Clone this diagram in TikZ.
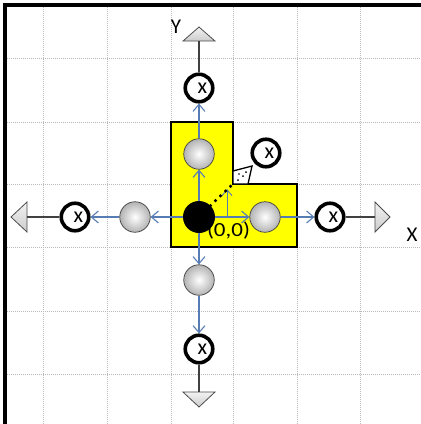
\documentclass[tikz,border=0pt]{standalone}
\usepackage{fontspec}
\setmainfont{Carlito}
\usetikzlibrary{arrows.meta}
\definecolor{axblue}{RGB}{85,125,180}
\definecolor{yel}{RGB}{255,255,0}
\begin{document}
\begin{tikzpicture}[x=1pt,y=-1pt,
  gridline/.style={gray!55,line width=0.9pt,dash pattern=on 1pt off 1pt},
  blackdot/.style={circle,fill=black,minimum size=32pt,inner sep=0pt},
  graydot/.style={circle,draw=gray!50!black,line width=0.7pt,inner color=white,outer color=gray!60,minimum size=30.5pt,inner sep=0pt},
  xcirc/.style={circle,draw=black,fill=white,line width=3.6pt,minimum size=27.5pt,inner sep=0pt,font=\fontsize{22}{22}\selectfont},
  blu/.style={draw=axblue,line width=1.1pt,-{Straight Barb[length=7pt,width=12pt]}},
  darkline/.style={draw=black!75,line width=1.1pt},
  tri/.style={top color=gray!10,bottom color=gray!40,draw=gray!60!black,line width=0.8pt},
  lab/.style={font=\fontsize{21}{21}\selectfont,inner sep=0pt}
]
\useasboundingbox (0,0) rectangle (421,424);
\fill[white] (0,0) rectangle (421,424);
% grid
\foreach \gx in {43,107,171,233,297,360} \draw[gridline] (\gx,5) -- (\gx,424);
\foreach \gy in {58,122,184,247,311,374} \draw[gridline] (5,\gy) -- (421,\gy);
% frame
\draw[line width=3.5pt] (5,424) -- (5,5) -- (421,5);
% yellow L shape
\draw[fill=yel,line width=1.5pt] (171,122) -- (233,122) -- (233,184) -- (297,184) -- (297,247) -- (171,247) -- cycle;
% triangles
\draw[tri] (183,41) -- (199,27) -- (215,41) -- cycle;
\draw[tri] (27,202) -- (11,217) -- (27,232) -- cycle;
\draw[tri] (375,202) -- (390,217) -- (375,232) -- cycle;
\draw[tri] (183,392) -- (199,407) -- (215,392) -- cycle;
\coordinate (tU) at (199,41);
\coordinate (tL) at (27,217);
\coordinate (tR) at (375,217);
\coordinate (tD) at (199,392);
% circles
\node[blackdot] (o) at (199,217) {};
\node[graydot] (gU) at (199,154) {};
\node[graydot] (gL) at (135,217) {};
\node[graydot] (gR) at (265,217) {};
\node[graydot] (gD) at (199,280) {};
\node[xcirc] (xU) at (199,88) {\hspace*{7pt}x};
\node[xcirc] (xL) at (75,217) {\hspace*{7pt}x};
\node[xcirc] (xR) at (330,217) {\hspace*{7pt}x};
\node[xcirc] (xD) at (199,349) {\hspace*{7pt}x};
\node[xcirc] (xN) at (266,153) {\hspace*{7pt}x};
% outer dark lines
\draw[darkline] (xU) -- (tU);
\draw[darkline] (xL) -- (tL);
\draw[darkline] (xR) -- (tR);
\draw[darkline] (xD) -- (tD);
% blue arrows
\draw[blu] (o) -- (gU);
\draw[blu] (gU) -- (xU);
\draw[blu] (o) -- (gL);
\draw[blu] (gL) -- (xL);
\draw[blu] (o) -- (gR);
\draw[blu] (gR) -- (xR);
\draw[blu] (o) -- (gD);
\draw[blu] (gD) -- (xD);
\coordinate (sa) at (227,217);
\coordinate (sb) at (227,189);
\draw[draw=axblue,line width=0.9pt,-{Straight Barb[length=6pt,width=10pt]}] (sa) -- (sb);
% dotted diagonal and wedge
\coordinate (corner) at (233,184);
\draw[line width=3.5pt,line cap=round,dash pattern=on 0pt off 7pt] (o.45) -- (corner);
\draw[fill=white,line width=1.3pt] (233,184) -- (233,171) -- (252,166) -- (248,184) -- cycle;
\fill (238,180) circle (1pt) (243,176) circle (1pt) (246,172) circle (1pt) (239,174) circle (0.8pt);
% labels
\node[lab] (ylab) at (176,27) {Y};
\node[lab] (xlab) at (412,235) {X};
\node[inner sep=0pt,font=\fontsize{20}{20}\selectfont] (orig) at (228.5,231) {\scalebox{1.15}[1]{(0,0)}};
\end{tikzpicture}
\end{document}
